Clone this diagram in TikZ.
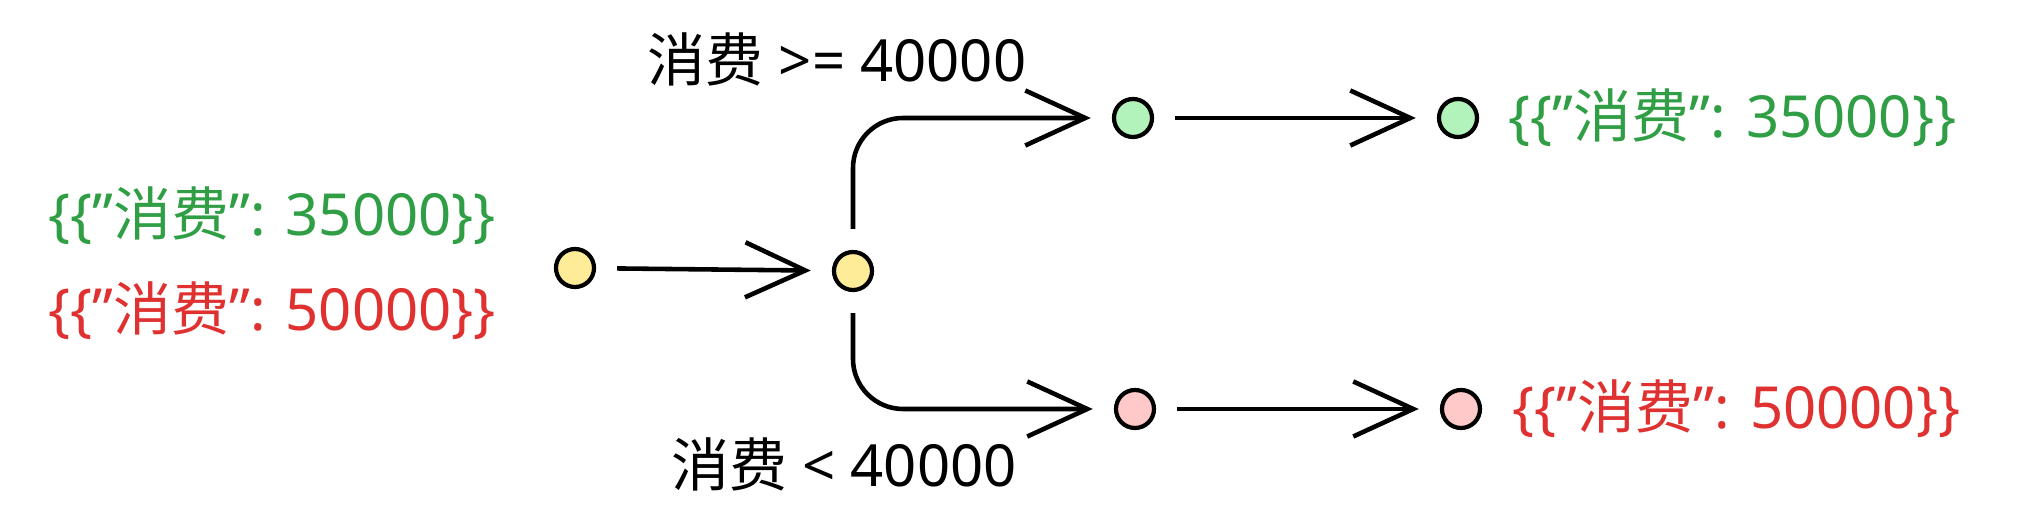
\documentclass[tikz,border=0pt]{standalone}
\usepackage{fontspec}
\setmainfont{Noto Sans}
\newfontfamily\cjk{Noto Sans CJK SC}
\usetikzlibrary{arrows.meta}
\definecolor{okgreen}{HTML}{2F9E44}
\definecolor{badred}{HTML}{E03131}
\definecolor{dotyellow}{HTML}{FFEC99}
\definecolor{dotgreen}{HTML}{B2F2BB}
\definecolor{dotred}{HTML}{FFC9C9}
\newcommand{\xf}{{\cjk 消费}}
\newcommand{\qq}{\symbol{34}}
\tikzset{
  dot/.style={circle, draw=black, line width=1.2pt, minimum size=0.38cm, inner sep=0pt},
  flow/.style={line width=1.3pt, -{Straight Barb[length=0.6cm, width=0.55cm, line width=1.3pt]}, shorten >=6pt, shorten <=6pt},
  txt/.style={font=\fontsize{16.5}{19}\selectfont, inner sep=0pt}
}
\begin{document}
\begin{tikzpicture}[x=0.01cm, y=-0.01cm]
\useasboundingbox (0,0) rectangle (2041,528);
% dots
\node[dot, fill=dotyellow] (start) at (575,268) {};
\node[dot, fill=dotyellow] (split) at (853,271) {};
\node[dot, fill=dotgreen] (hiA) at (1133,118) {};
\node[dot, fill=dotgreen] (hiB) at (1458,118) {};
\node[dot, fill=dotred] (loA) at (1135,409) {};
\node[dot, fill=dotred] (loB) at (1461,409) {};
% texts
\node[txt, text=okgreen] (inGreen) at (272,216) {\{\{\qq\xf\qq: 35000\}\}};
\node[txt, text=badred] (inRed) at (272,311) {\{\{\qq\xf\qq: 50000\}\}};
\node[txt, text=okgreen, anchor=west] (outGreen) at (1508,118) {\{\{\qq\xf\qq: 35000\}\}};
\node[txt, text=badred, anchor=west] (outRed) at (1512,409) {\{\{\qq\xf\qq: 50000\}\}};
\node[txt] (condHi) at (837,59) {\xf{} >= 40000};
\node[txt] (condLo) at (844,464) {\xf{} < 40000};
% connectors
\draw[flow] (start) -- (split);
\draw[flow, rounded corners=0.5cm] (split.north) |- (hiA.west);
\draw[flow, rounded corners=0.5cm] (split.south) |- (loA.west);
\draw[flow] (hiA) -- (hiB);
\draw[flow] (loA) -- (loB);
\end{tikzpicture}
\end{document}
